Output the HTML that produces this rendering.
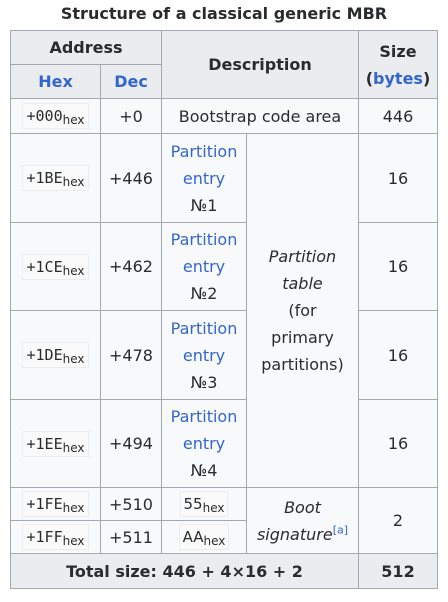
<!DOCTYPE html>
<html><head><meta charset="utf-8"><style>
body{margin:0;width:448px;height:602px;background:#fff;font-family:"DejaVu Sans","Liberation Sans",sans-serif;color:#2a2b2c;font-size:16px;position:relative;overflow:hidden}
.c{position:absolute;box-sizing:border-box;border:1px solid #a2a9b1;display:flex;align-items:center;justify-content:center;text-align:center;line-height:27px;background:#f8f9fa}
.h{background:#eaecf0;font-weight:bold}
.l{color:#3366cc}
.code{font-family:"DejaVu Sans Mono","Liberation Mono",monospace;border:1px solid #eaecf0;padding:0 3px;line-height:24px;font-size:15px;background:#fafafa}
.code sub{font-family:"DejaVu Sans",sans-serif;font-size:12px;vertical-align:-3px;line-height:0}
i{font-style:italic}
.title{position:absolute;left:0;width:448px;top:4px;text-align:center;font-weight:bold;font-size:16px}
</style></head><body>
<div class="title">Structure of a classical generic MBR</div>
<div class="c h" style="left:10px;top:30px;width:152px;height:35px">Address</div>
<div class="c h l" style="left:10px;top:64px;width:91px;height:35px">Hex</div>
<div class="c h l" style="left:100px;top:64px;width:62px;height:35px">Dec</div>
<div class="c h" style="left:161px;top:30px;width:198px;height:69px">Description</div>
<div class="c h" style="left:358px;top:30px;width:80px;height:69px"><span>Size<br>(<span class="l">bytes</span>)</span></div>

<div class="c" style="left:10px;top:98px;width:91px;height:36px"><span class="code">+000<sub>hex</sub></span></div>
<div class="c" style="left:100px;top:98px;width:62px;height:36px">+0</div>
<div class="c" style="left:161px;top:98px;width:198px;height:36px">Bootstrap code area</div>
<div class="c" style="left:358px;top:98px;width:80px;height:36px">446</div>

<div class="c" style="left:10px;top:133px;width:91px;height:90px"><span class="code">+1BE<sub>hex</sub></span></div>
<div class="c" style="left:100px;top:133px;width:62px;height:90px">+446</div>
<div class="c" style="left:161px;top:133px;width:86px;height:90px"><span><span class="l">Partition<br>entry</span><br>№1</span></div>
<div class="c" style="left:358px;top:133px;width:80px;height:90px">16</div>

<div class="c" style="left:10px;top:222px;width:91px;height:89px"><span class="code">+1CE<sub>hex</sub></span></div>
<div class="c" style="left:100px;top:222px;width:62px;height:89px">+462</div>
<div class="c" style="left:161px;top:222px;width:86px;height:89px"><span><span class="l">Partition<br>entry</span><br>№2</span></div>
<div class="c" style="left:358px;top:222px;width:80px;height:89px">16</div>

<div class="c" style="left:10px;top:310px;width:91px;height:90px"><span class="code">+1DE<sub>hex</sub></span></div>
<div class="c" style="left:100px;top:310px;width:62px;height:90px">+478</div>
<div class="c" style="left:161px;top:310px;width:86px;height:90px"><span><span class="l">Partition<br>entry</span><br>№3</span></div>
<div class="c" style="left:358px;top:310px;width:80px;height:90px">16</div>

<div class="c" style="left:10px;top:399px;width:91px;height:89px"><span class="code">+1EE<sub>hex</sub></span></div>
<div class="c" style="left:100px;top:399px;width:62px;height:89px">+494</div>
<div class="c" style="left:161px;top:399px;width:86px;height:89px"><span><span class="l">Partition<br>entry</span><br>№4</span></div>
<div class="c" style="left:358px;top:399px;width:80px;height:89px">16</div>

<div class="c" style="left:246px;top:133px;width:113px;height:355px"><span><i>Partition<br>table</i><br>(for<br>primary<br>partitions)</span></div>

<div class="c" style="left:10px;top:487px;width:91px;height:34px"><span class="code">+1FE<sub>hex</sub></span></div>
<div class="c" style="left:100px;top:487px;width:62px;height:34px">+510</div>
<div class="c" style="left:161px;top:487px;width:86px;height:34px"><span class="code" style="font-family:'DejaVu Sans',sans-serif">55<sub>hex</sub></span></div>
<div class="c" style="left:10px;top:520px;width:91px;height:34px"><span class="code">+1FF<sub>hex</sub></span></div>
<div class="c" style="left:100px;top:520px;width:62px;height:34px">+511</div>
<div class="c" style="left:161px;top:520px;width:86px;height:34px"><span class="code" style="font-family:'DejaVu Sans',sans-serif">AA<sub>hex</sub></span></div>
<div class="c" style="left:246px;top:487px;width:113px;height:67px"><span><i>Boot<br>signature</i><sup class="l" style="font-size:11px;line-height:0">[a]</sup></span></div>
<div class="c" style="left:358px;top:487px;width:80px;height:67px">2</div>

<div class="c h" style="left:10px;top:553px;width:349px;height:36px">Total size: 446 + 4×16 + 2</div>
<div class="c h" style="left:358px;top:553px;width:80px;height:36px">512</div>
</body></html>
